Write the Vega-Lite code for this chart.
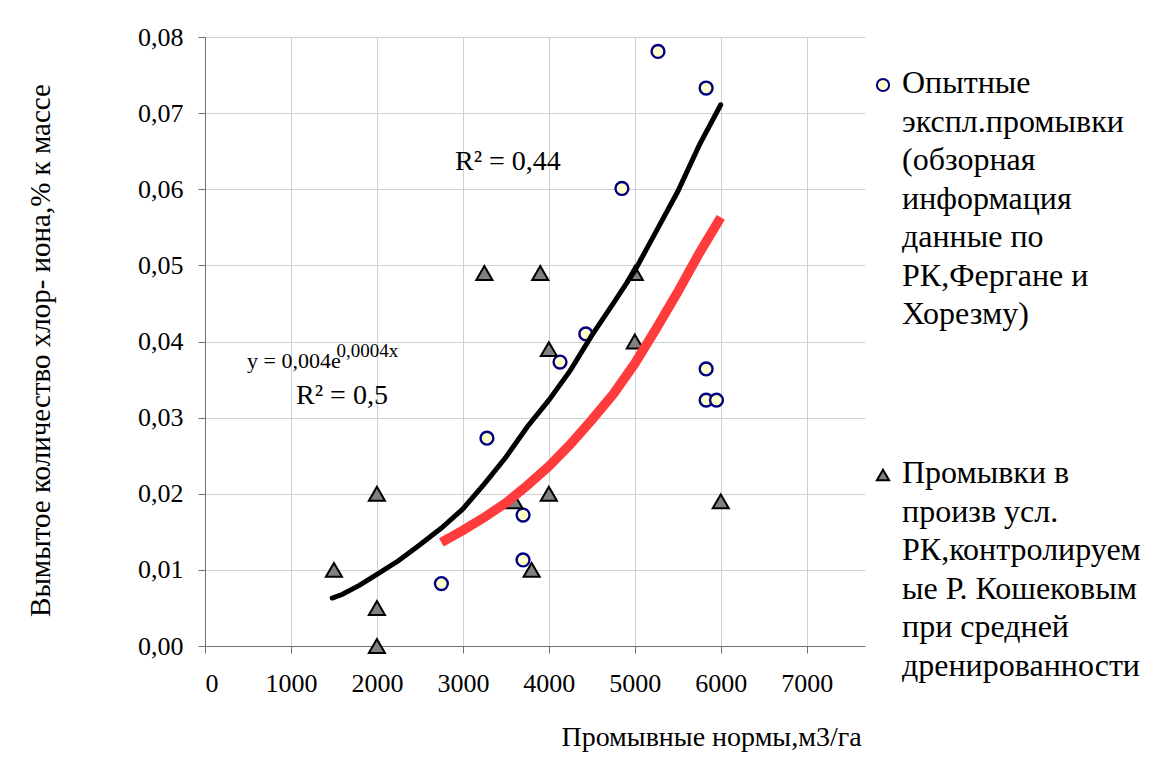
{
  "$schema": "https://vega.github.io/schema/vega-lite/v6.json",
  "width": 660,
  "height": 609,
  "autosize": {"type": "none"},
  "padding": {"left": 205, "top": 37, "right": 303, "bottom": 125},
  "background": "white",
  "config": {
    "view": {"stroke": null},
    "axis": {
      "labelColor": "black",
      "titleColor": "black",
      "titleFontWeight": "normal",
      "domainColor": "#707070",
      "tickColor": "#707070",
      "gridColor": "#d0d0d0",
      "gridWidth": 1,
      "tickSize": 7
    }
  },
  "datasets": {
    "points": [
      {"series": "Опытные|экспл.промывки|(обзорная|информация|данные по|РК,Фергане и|Хорезму)", "x": 2750, "y": 0.0082},
      {"series": "Опытные|экспл.промывки|(обзорная|информация|данные по|РК,Фергане и|Хорезму)", "x": 3280, "y": 0.0273},
      {"series": "Опытные|экспл.промывки|(обзорная|информация|данные по|РК,Фергане и|Хорезму)", "x": 3700, "y": 0.0172},
      {"series": "Опытные|экспл.промывки|(обзорная|информация|данные по|РК,Фергане и|Хорезму)", "x": 3700, "y": 0.0113},
      {"series": "Опытные|экспл.промывки|(обзорная|информация|данные по|РК,Фергане и|Хорезму)", "x": 4130, "y": 0.0373},
      {"series": "Опытные|экспл.промывки|(обзорная|информация|данные по|РК,Фергане и|Хорезму)", "x": 4430, "y": 0.0410},
      {"series": "Опытные|экспл.промывки|(обзорная|информация|данные по|РК,Фергане и|Хорезму)", "x": 4850, "y": 0.0601},
      {"series": "Опытные|экспл.промывки|(обзорная|информация|данные по|РК,Фергане и|Хорезму)", "x": 5270, "y": 0.0781},
      {"series": "Опытные|экспл.промывки|(обзорная|информация|данные по|РК,Фергане и|Хорезму)", "x": 5830, "y": 0.0733},
      {"series": "Опытные|экспл.промывки|(обзорная|информация|данные по|РК,Фергане и|Хорезму)", "x": 5830, "y": 0.0364},
      {"series": "Опытные|экспл.промывки|(обзорная|информация|данные по|РК,Фергане и|Хорезму)", "x": 5830, "y": 0.0323},
      {"series": "Опытные|экспл.промывки|(обзорная|информация|данные по|РК,Фергане и|Хорезму)", "x": 5950, "y": 0.0323},
      {"series": " Промывки  в|произв усл.|РК,контролируем|ые Р. Кошековым|при средней|дренированности", "x": 1500, "y": 0.010},
      {"series": " Промывки  в|произв усл.|РК,контролируем|ые Р. Кошековым|при средней|дренированности", "x": 2000, "y": 0.020},
      {"series": " Промывки  в|произв усл.|РК,контролируем|ые Р. Кошековым|при средней|дренированности", "x": 2000, "y": 0.005},
      {"series": " Промывки  в|произв усл.|РК,контролируем|ые Р. Кошековым|при средней|дренированности", "x": 2000, "y": 0.0},
      {"series": " Промывки  в|произв усл.|РК,контролируем|ые Р. Кошековым|при средней|дренированности", "x": 3250, "y": 0.049},
      {"series": " Промывки  в|произв усл.|РК,контролируем|ые Р. Кошековым|при средней|дренированности", "x": 3600, "y": 0.019},
      {"series": " Промывки  в|произв усл.|РК,контролируем|ые Р. Кошековым|при средней|дренированности", "x": 3800, "y": 0.010},
      {"series": " Промывки  в|произв усл.|РК,контролируем|ые Р. Кошековым|при средней|дренированности", "x": 3900, "y": 0.049},
      {"series": " Промывки  в|произв усл.|РК,контролируем|ые Р. Кошековым|при средней|дренированности", "x": 4000, "y": 0.039},
      {"series": " Промывки  в|произв усл.|РК,контролируем|ые Р. Кошековым|при средней|дренированности", "x": 4000, "y": 0.020},
      {"series": " Промывки  в|произв усл.|РК,контролируем|ые Р. Кошековым|при средней|дренированности", "x": 5000, "y": 0.049},
      {"series": " Промывки  в|произв усл.|РК,контролируем|ые Р. Кошековым|при средней|дренированности", "x": 5000, "y": 0.040},
      {"series": " Промывки  в|произв усл.|РК,контролируем|ые Р. Кошековым|при средней|дренированности", "x": 6000, "y": 0.019}
    ],
    "blackFit": [
      {"x": 1480, "y": 0.0063}, {"x": 1600, "y": 0.0068}, {"x": 1800, "y": 0.0080},
      {"x": 2000, "y": 0.0094}, {"x": 2250, "y": 0.0112}, {"x": 2500, "y": 0.0133},
      {"x": 2750, "y": 0.0155}, {"x": 3000, "y": 0.0180}, {"x": 3250, "y": 0.0213},
      {"x": 3500, "y": 0.0248}, {"x": 3750, "y": 0.0288}, {"x": 4000, "y": 0.0323},
      {"x": 4250, "y": 0.0362}, {"x": 4500, "y": 0.0408}, {"x": 4750, "y": 0.0450},
      {"x": 5000, "y": 0.0493}, {"x": 5250, "y": 0.0545}, {"x": 5500, "y": 0.0597},
      {"x": 5750, "y": 0.0658}, {"x": 6000, "y": 0.0711}
    ],
    "redFit": [
      {"x": 2750, "y": 0.0136}, {"x": 3000, "y": 0.0152}, {"x": 3250, "y": 0.0169},
      {"x": 3500, "y": 0.0188}, {"x": 3750, "y": 0.0211}, {"x": 4000, "y": 0.0236},
      {"x": 4250, "y": 0.0265}, {"x": 4500, "y": 0.0297}, {"x": 4750, "y": 0.0331},
      {"x": 5000, "y": 0.0371}, {"x": 5250, "y": 0.0417}, {"x": 5500, "y": 0.0465},
      {"x": 5750, "y": 0.0516}, {"x": 6000, "y": 0.0563}
    ],
    "notes": [
      {"x": 2908, "y": 0.0636, "t": "R² = 0,44"},
      {"x": 1059, "y": 0.0328, "t": "R² = 0,5"}
    ],
    "eq": [
      {"x": 490, "y": 0.0374, "t": "y = 0,004e"}
    ],
    "sup": [
      {"x": 1530, "y": 0.0388, "t": "0,0004x"}
    ]
  },
  "layer": [
    {
      "data": {"name": "points"},
      "transform": [{"filter": "indexof(datum.series, 'Опытные') >= 0"}],
      "mark": {"type": "point", "filled": true, "size": 165, "strokeWidth": 2.4, "opacity": 1},
      "encoding": {
        "x": {
          "field": "x", "type": "quantitative",
          "scale": {"domain": [0, 7678], "nice": false, "zero": false},
          "axis": {
            "values": [0, 1000, 2000, 3000, 4000, 5000, 6000, 7000],
            "format": "d",
            "title": "Промывные нормы,м3/га",
            "labelFont": "Liberation Serif",
            "titleFont": "Liberation Serif",
            "labelFontSize": 26,
            "labelPadding": 17,
            "titleFontSize": 28,
            "titleX": 506,
            "titleY": 91,
            "titleAlign": "center",
            "titleBaseline": "middle",
            "grid": true
          }
        },
        "y": {
          "field": "y", "type": "quantitative",
          "scale": {"domain": [0, 0.08], "nice": false},
          "axis": {
            "values": [0, 0.01, 0.02, 0.03, 0.04, 0.05, 0.06, 0.07, 0.08],
            "labelExpr": "replace(format(datum.value, '.2f'), '.', ',')",
            "title": "Вымытое количество хлор- иона,% к массе",
            "labelFont": "Liberation Serif",
            "titleFont": "Liberation Serif",
            "labelFontSize": 26,
            "labelPadding": 15,
            "titleFontSize": 29,
            "titleAngle": -90,
            "titleX": -165,
            "titleY": 313,
            "titleAlign": "center",
            "titleBaseline": "middle",
            "grid": true
          }
        },
        "shape": {
          "field": "series", "type": "nominal",
          "scale": {
            "domain": ["Опытные|экспл.промывки|(обзорная|информация|данные по|РК,Фергане и|Хорезму)", " Промывки  в|произв усл.|РК,контролируем|ые Р. Кошековым|при средней|дренированности"],
            "range": ["circle", "triangle-up"]
          },
          "legend": {
            "title": null,
            "orient": "none",
            "legendX": 662,
            "legendY": 32,
            "direction": "vertical",
            "labelExpr": "split(datum.label, '|')",
            "labelFont": "Liberation Serif",
            "labelFontSize": 32,
            "labelColor": "black",
            "labelLimit": 0,
            "labelBaseline": "top",
            "symbolSize": 150,
            "symbolStrokeWidth": 2,
            "rowPadding": 127,
            "labelOffset": 3,
            "encoding": {
              "labels": {
                "dy": {"value": -17},
                "lineHeight": {"value": 38.5}
              }
            }
          }
        },
        "fill": {
          "field": "series", "type": "nominal",
          "scale": {
            "domain": ["Опытные|экспл.промывки|(обзорная|информация|данные по|РК,Фергане и|Хорезму)", " Промывки  в|произв усл.|РК,контролируем|ые Р. Кошековым|при средней|дренированности"],
            "range": ["#FFFFCC", "#808080"]
          }
        },
        "stroke": {
          "field": "series", "type": "nominal",
          "scale": {
            "domain": ["Опытные|экспл.промывки|(обзорная|информация|данные по|РК,Фергане и|Хорезму)", " Промывки  в|произв усл.|РК,контролируем|ые Р. Кошековым|при средней|дренированности"],
            "range": ["#000080", "#000000"]
          }
        }
      }
    },
    {
      "data": {"name": "points"},
      "transform": [{"filter": "indexof(datum.series, 'Опытные') < 0"}],
      "mark": {"type": "point", "filled": true, "size": 260, "strokeWidth": 2, "opacity": 1},
      "encoding": {
        "x": {"field": "x", "type": "quantitative"},
        "y": {"field": "y", "type": "quantitative"},
        "shape": {"field": "series", "type": "nominal"},
        "fill": {"field": "series", "type": "nominal"},
        "stroke": {"field": "series", "type": "nominal"}
      }
    },
    {
      "data": {"name": "redFit"},
      "mark": {"type": "line", "color": "#ff3b3b", "strokeWidth": 9.5, "strokeCap": "butt"},
      "encoding": {
        "x": {"field": "x", "type": "quantitative"},
        "y": {"field": "y", "type": "quantitative"}
      }
    },
    {
      "data": {"name": "blackFit"},
      "mark": {"type": "line", "color": "#000000", "strokeWidth": 5, "strokeCap": "round"},
      "encoding": {
        "x": {"field": "x", "type": "quantitative"},
        "y": {"field": "y", "type": "quantitative"}
      }
    },
    {
      "data": {"name": "notes"},
      "mark": {"type": "text", "align": "left", "baseline": "middle", "font": "Liberation Serif", "fontSize": 28, "color": "black"},
      "encoding": {
        "x": {"field": "x", "type": "quantitative"},
        "y": {"field": "y", "type": "quantitative"},
        "text": {"field": "t"}
      }
    },
    {
      "data": {"name": "eq"},
      "mark": {"type": "text", "align": "left", "baseline": "middle", "font": "Liberation Serif", "fontSize": 22, "color": "black"},
      "encoding": {
        "x": {"field": "x", "type": "quantitative"},
        "y": {"field": "y", "type": "quantitative"},
        "text": {"field": "t"}
      }
    },
    {
      "data": {"name": "sup"},
      "mark": {"type": "text", "align": "left", "baseline": "middle", "font": "Liberation Serif", "fontSize": 19, "color": "black"},
      "encoding": {
        "x": {"field": "x", "type": "quantitative"},
        "y": {"field": "y", "type": "quantitative"},
        "text": {"field": "t"}
      }
    }
  ]
}
